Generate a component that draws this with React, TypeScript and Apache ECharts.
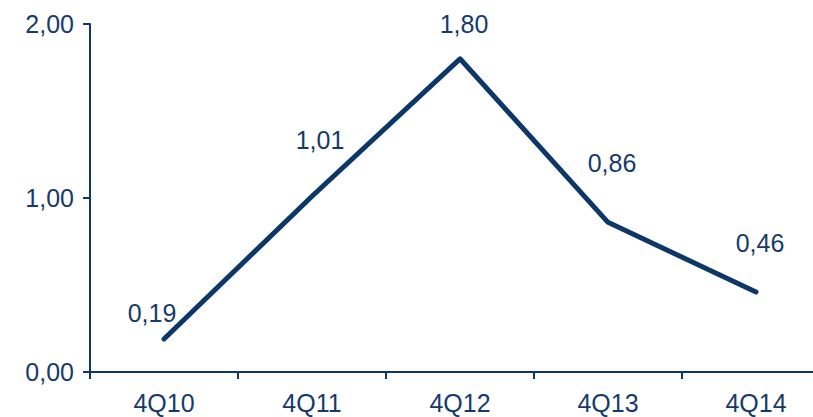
import React, { useEffect, useRef } from "react";
import * as echarts from "echarts";

const categories = ["4Q10", "4Q11", "4Q12", "4Q13", "4Q14"];
const values = [0.19, 1.01, 1.8, 0.86, 0.46];
// label offsets relative to each point (dx, dy)
const labelOffsets = [
  [-12, -26],
  [8, -56],
  [4, -35],
  [4, -59],
  [4, -49],
];

const NAVY = "#0c3766";
const TEXT = "#173b69";
const FONT = "'Liberation Sans', Arial, sans-serif";

const fmt = (v: number) => v.toFixed(2).replace(".", ",");

export default function App() {
  const ref = useRef<HTMLDivElement>(null);

  useEffect(() => {
    if (!ref.current) return;
    const chart = echarts.init(ref.current, undefined, { renderer: "svg" });
    chart.setOption({
      animation: false,
      backgroundColor: "#ffffff",
      grid: { left: 90, top: 24, bottom: 45, right: 0, containLabel: false },
      xAxis: {
        type: "category",
        data: categories,
        boundaryGap: true,
        axisLine: { lineStyle: { color: NAVY, width: 2 } },
        axisTick: { show: true, length: 7, lineStyle: { color: NAVY, width: 2 } },
        axisLabel: { color: TEXT, fontSize: 25, fontFamily: FONT, margin: 18 },
        splitLine: { show: false },
      },
      yAxis: {
        type: "value",
        min: 0,
        max: 2,
        interval: 1,
        axisLine: { show: true, lineStyle: { color: NAVY, width: 2 } },
        axisTick: { show: true, length: 7, lineStyle: { color: NAVY, width: 2 } },
        axisLabel: {
          color: TEXT,
          fontSize: 25,
          fontFamily: FONT,
          margin: 16,
          formatter: (v: number) => fmt(v),
        },
        splitLine: { show: false },
      },
      series: [
        {
          type: "line",
          data: values.map((v, i) => ({
            value: v,
            label: { offset: labelOffsets[i] },
          })),
          symbol: "circle",
          symbolSize: 1,
          showSymbol: true,
          itemStyle: { color: "rgba(0,0,0,0)" },
          lineStyle: { color: NAVY, width: 5, cap: "round", join: "round" },
          label: {
            show: true,
            position: "inside",
            color: TEXT,
            fontSize: 25,
            fontFamily: FONT,
            formatter: (p: any) => fmt(p.value),
          },
        },
      ],
    });
    return () => chart.dispose();
  }, []);

  // The plot runs a little past the right edge of the visible frame.
  return (
    <div
      style={{
        position: "absolute",
        left: 0,
        top: 0,
        width: 813,
        height: 417,
        overflow: "hidden",
        background: "#ffffff",
      }}
    >
      <div ref={ref} style={{ width: 830, height: 417 }} />
    </div>
  );
}
